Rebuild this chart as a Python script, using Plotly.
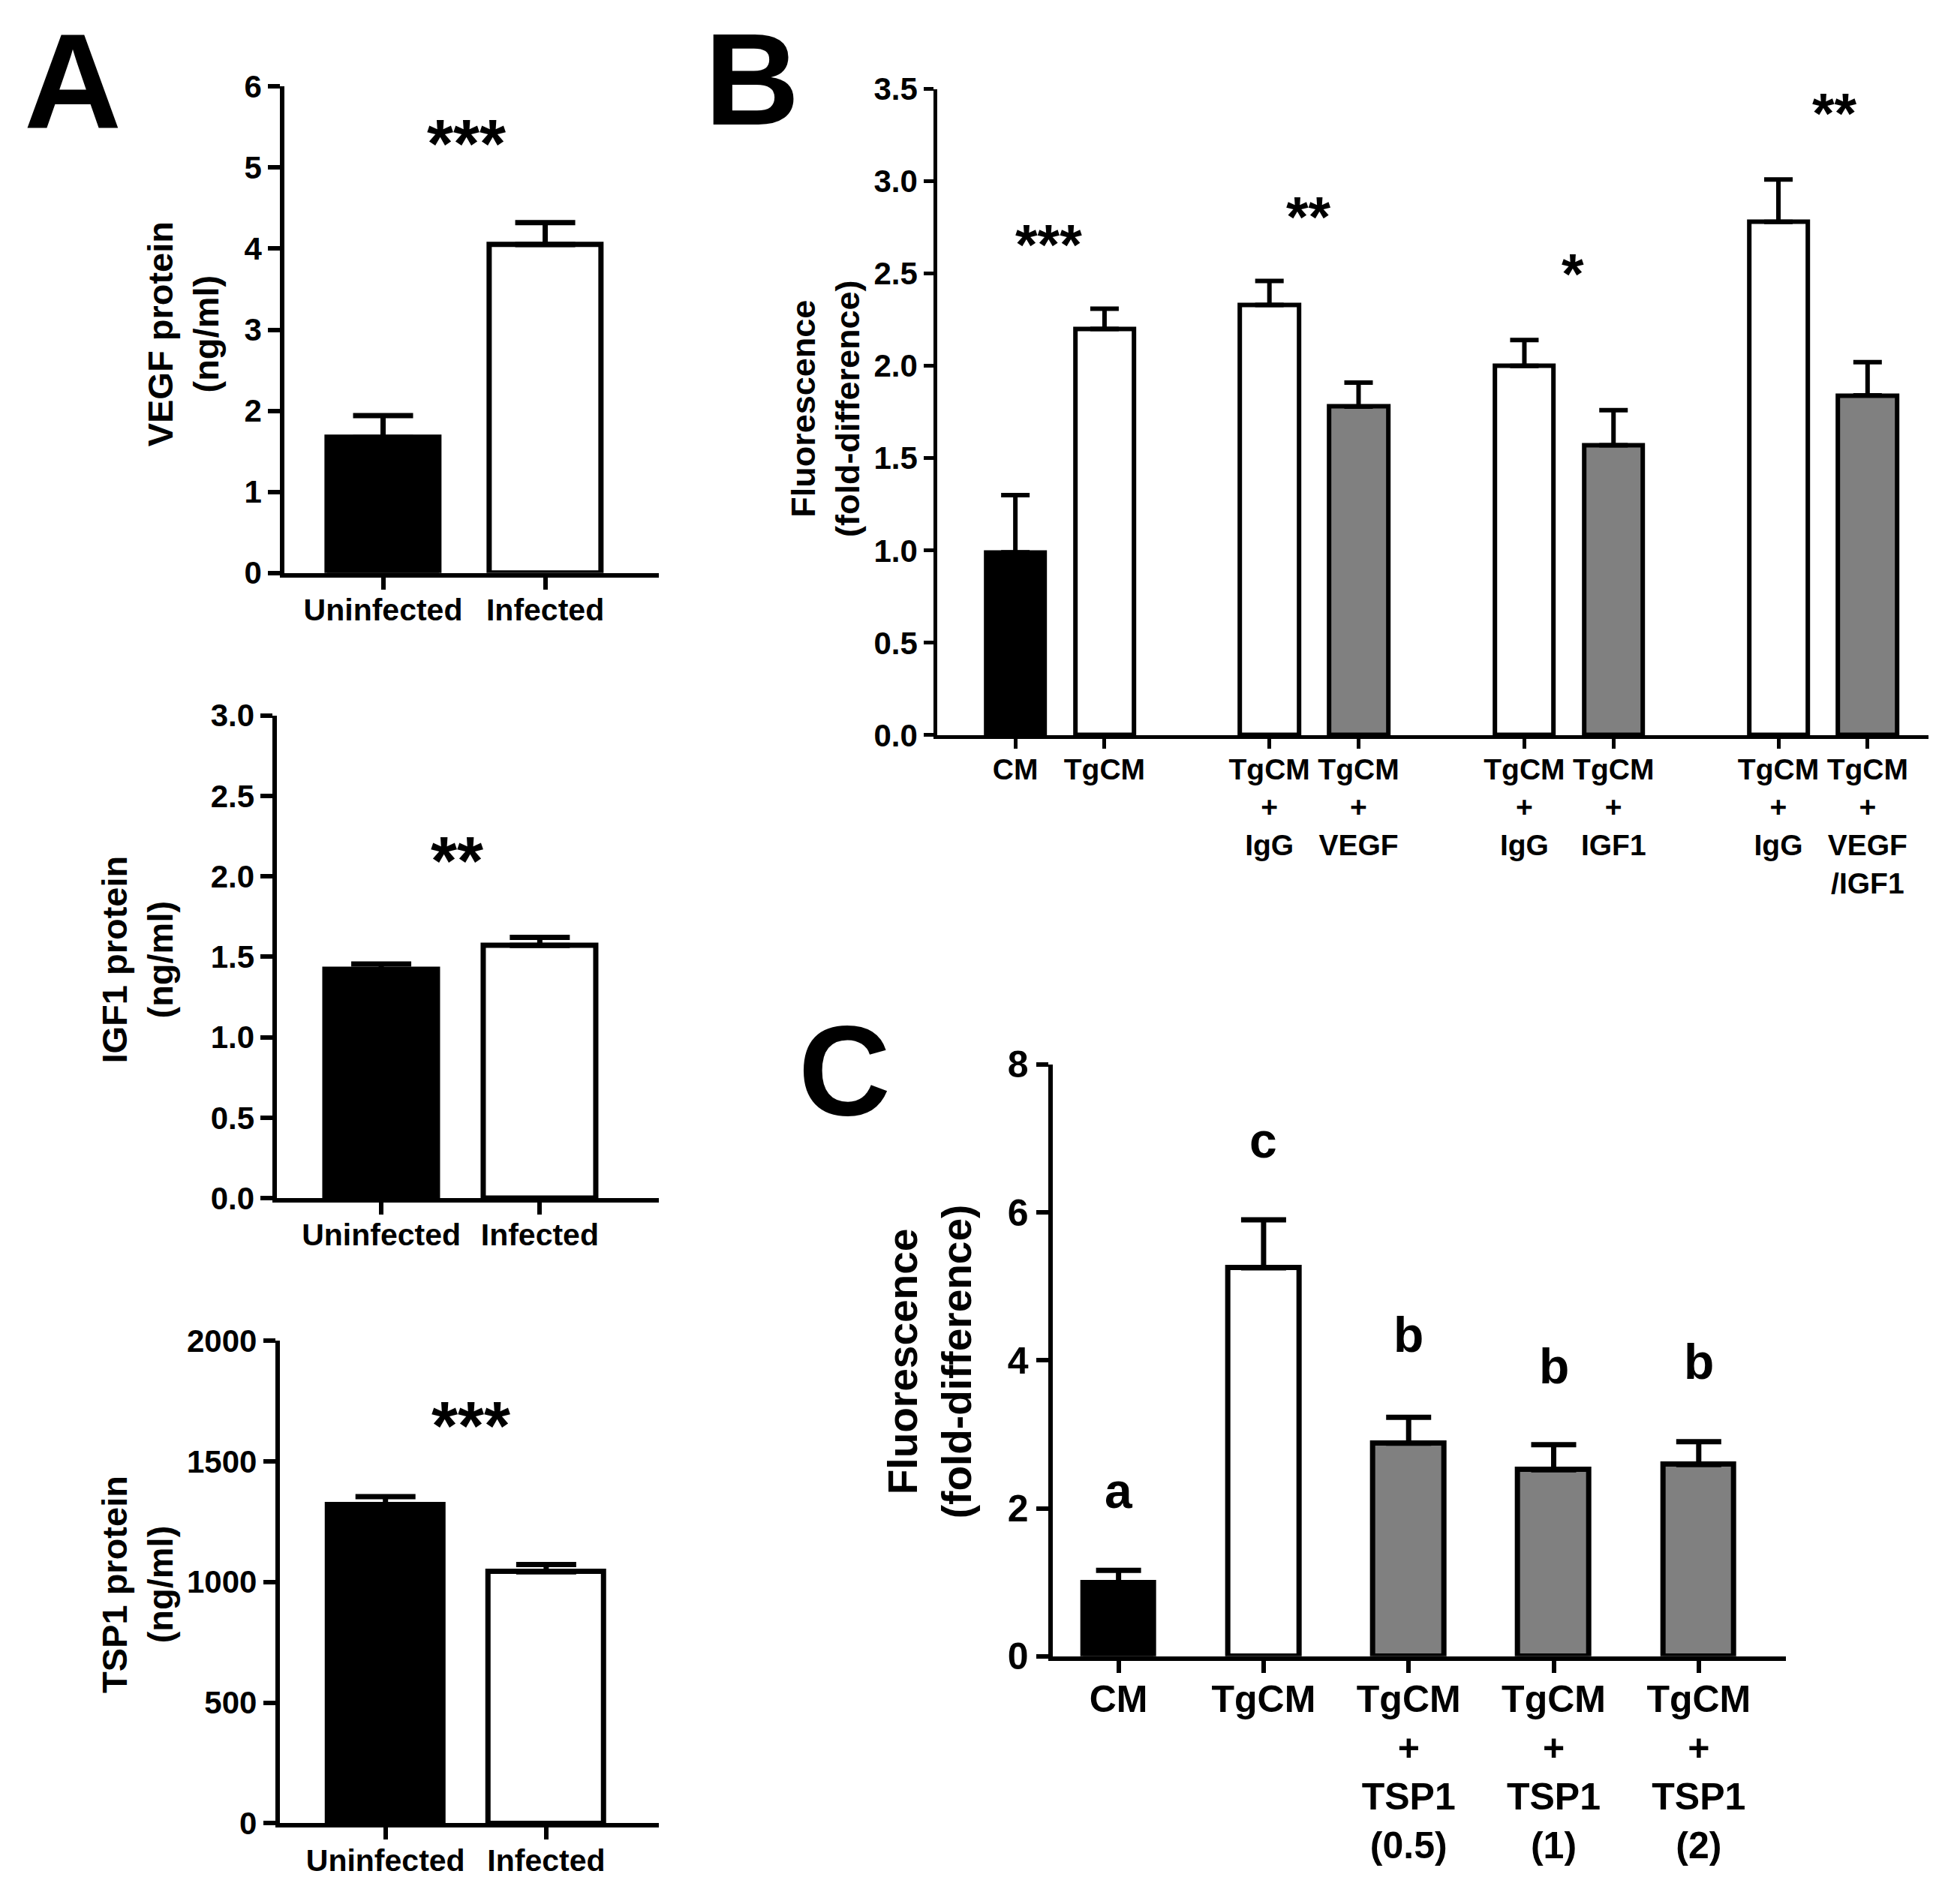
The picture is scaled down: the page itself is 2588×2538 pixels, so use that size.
import plotly.graph_objects as go

# ---- Panel A ----
groups_a = ["Uninfected", "Infected"]
vegf_mean = [1.67, 4.05]
vegf_err = [0.27, 0.27]
igf1_mean = [1.42, 1.57]
igf1_err = [0.035, 0.05]
tsp1_mean = [1319, 1042]
tsp1_err = [34, 30]
colors_a = ["black", "white"]

# ---- Panel B ----
labels_b = [
    "CM",
    "TgCM",
    "TgCM<br>+<br>IgG",
    "TgCM<br>+<br>VEGF",
    "TgCM<br>+<br>IgG",
    "TgCM<br>+<br>IGF1",
    "TgCM<br>+<br>IgG",
    "TgCM<br>+<br>VEGF<br>/IGF1",
]
pos_b = [0, 1, 2.85, 3.85, 5.71, 6.71, 8.56, 9.56]
fluor_b = [0.99, 2.20, 2.33, 1.78, 2.00, 1.57, 2.78, 1.84]
err_b = [0.31, 0.11, 0.13, 0.13, 0.14, 0.19, 0.23, 0.18]
colors_b = ["black", "white", "white", "#808080", "white", "#808080", "white", "#808080"]
stars_b = ["***", "**", "*", "**"]
stars_b_x = [0.375, 3.29, 6.25, 9.19]
stars_b_y = [2.66, 2.81, 2.50, 3.37]

# ---- Panel C ----
labels_c = [
    "CM",
    "TgCM",
    "TgCM<br>+<br>TSP1<br>(0.5)",
    "TgCM<br>+<br>TSP1<br>(1)",
    "TgCM<br>+<br>TSP1<br>(2)",
]
pos_c = [0, 1, 2, 3, 4]
fluor_c = [0.99, 5.25, 2.88, 2.52, 2.59]
err_c = [0.17, 0.65, 0.35, 0.34, 0.31]
colors_c = ["black", "white", "#808080", "#808080", "#808080"]
letters_c = ["a", "c", "b", "b", "b"]
letters_c_y = [2.24, 6.97, 4.35, 3.92, 3.98]

W, H = 2588, 2538
BOLD = "Liberation Sans"


def px_x(v):
    return (v - 3) / 1568


def px_y(v):
    return 1 - (v - 5) / 1538


fig = go.Figure()


def add_bars(x, y, err, colors, xa, ya, width, line_w, cap):
    fig.add_trace(
        go.Bar(
            x=x,
            y=y,
            width=width,
            marker=dict(color=colors, line=dict(color="black", width=line_w)),
            error_y=dict(
                type="data",
                symmetric=False,
                array=err,
                arrayminus=[0] * len(err),
                color="black",
                thickness=line_w,
                width=cap,
            ),
            xaxis=xa,
            yaxis=ya,
            showlegend=False,
        )
    )


add_bars([0, 1], vegf_mean, vegf_err, colors_a, "x", "y", 0.69, 7, 40)
add_bars([0, 1], igf1_mean, igf1_err, colors_a, "x2", "y2", 0.71, 7, 40)
add_bars([0, 1], tsp1_mean, tsp1_err, colors_a, "x3", "y3", 0.72, 7, 40)
add_bars(pos_b, fluor_b, err_b, colors_b, "x4", "y4", 0.66, 6, 19)
add_bars(pos_c, fluor_c, err_c, colors_c, "x5", "y5", 0.49, 7, 30)


def axis_style(font, lw, tl):
    return dict(
        ticks="outside",
        ticklen=tl,
        tickwidth=lw,
        tickcolor="black",
        showline=True,
        linecolor="black",
        linewidth=lw,
        showgrid=False,
        zeroline=False,
        tickfont=font,
        automargin=False,
        fixedrange=True,
    )


def xaxis(domain, rng, vals, text, anchor, font, lw, tl, standoff):
    return dict(
        domain=domain,
        range=rng,
        anchor=anchor,
        tickmode="array",
        tickvals=vals,
        ticktext=text,
        ticklabelstandoff=standoff,
        **axis_style(font, lw, tl),
    )


def yaxis(domain, rng, dtick, fmt, anchor, font, lw, tl):
    return dict(
        domain=domain,
        range=rng,
        anchor=anchor,
        dtick=dtick,
        tick0=0,
        tickformat=fmt,
        **axis_style(font, lw, tl),
    )


font_a = dict(family=BOLD, size=42, color="black", weight="bold")
font_ax = dict(family=BOLD, size=41, color="black", weight="bold")
font_b = dict(family=BOLD, size=42, color="black", weight="bold")
font_bx = dict(family=BOLD, size=39, color="black", weight="bold")
font_c = dict(family=BOLD, size=50, color="black", weight="bold")

fig.update_layout(
    xaxis=xaxis([px_x(228), px_x(530)], [-0.607, 1.70], [0, 1], groups_a, "y", font_ax, 6, 16, -8),
    yaxis=yaxis([px_y(463), px_y(70)], [0, 6], 1, "d", "x", font_a, 6, 16),
    xaxis2=xaxis([px_x(222), px_x(530)], [-0.656, 1.75], [0, 1], groups_a, "y2", font_ax, 6, 16, -8),
    yaxis2=yaxis([px_y(968), px_y(578)], [0, 3], 0.5, ".1f", "x2", font_a, 6, 16),
    xaxis3=xaxis([px_x(224), px_x(530)], [-0.658, 1.70], [0, 1], groups_a, "y3", font_ax, 6, 16, -8),
    yaxis3=yaxis([px_y(1473), px_y(1083)], [0, 2000], 500, "d", "x3", font_a, 6, 16),
    xaxis4=xaxis([px_x(755), px_x(1555)], [-0.875, 10.24], pos_b, labels_b, "y4", font_bx, 5, 13, -6),
    yaxis4=yaxis([px_y(594), px_y(72)], [0, 3.5], 0.5, ".1f", "x4", font_b, 5, 13),
    xaxis5=xaxis([px_x(848), px_x(1440)], [-0.455, 4.6], pos_c, labels_c, "y5", font_c, 6, 16, -8),
    yaxis5=yaxis([px_y(1338), px_y(860)], [0, 8], 2, "d", "x5", font_c, 6, 16),
)

ann = []


def note(text, x, y, xref, yref, size, angle=0):
    ann.append(
        dict(
            text=text,
            x=x,
            y=y,
            xref=xref,
            yref=yref,
            showarrow=False,
            textangle=angle,
            xanchor="center",
            yanchor="middle",
            font=dict(family=BOLD, size=size, color="black", weight="bold"),
        )
    )


# significance marks
note("***", 0.515, 5.29, "x", "y", 90)
note("**", 0.48, 2.095, "x2", "y2", 90)
note("***", 0.53, 1646, "x3", "y3", 90)
for s, sx, sy in zip(stars_b, stars_b_x, stars_b_y):
    note(s, sx, sy, "x4", "y4", 76)
for s, sx, sy in zip(letters_c, pos_c, letters_c_y):
    note(s, sx, sy, "x5", "y5", 66)

# axis titles
note("VEGF protein<br>(ng/ml)", px_x(146), px_y(270), "paper", "paper", 47, angle=-90)
note("IGF1 protein<br>(ng/ml)", px_x(109), px_y(775), "paper", "paper", 47, angle=-90)
note("TSP1 protein<br>(ng/ml)", px_x(109), px_y(1280), "paper", "paper", 47, angle=-90)
note("Fluorescence<br>(fold-difference)", px_x(665), px_y(330), "paper", "paper", 45, angle=-90)
note("Fluorescence<br>(fold-difference)", px_x(749), px_y(1100), "paper", "paper", 55, angle=-90)

# panel letters
note("A", px_x(57), px_y(66), "paper", "paper", 180)
note("B", px_x(605), px_y(64), "paper", "paper", 175)
note("C", px_x(680), px_y(865), "paper", "paper", 170)

fig.update_layout(
    annotations=ann,
    width=W,
    height=H,
    margin=dict(l=0, r=0, t=0, b=0),
    paper_bgcolor="white",
    plot_bgcolor="white",
    bargap=0,
)

fig.write_html("out.html")
